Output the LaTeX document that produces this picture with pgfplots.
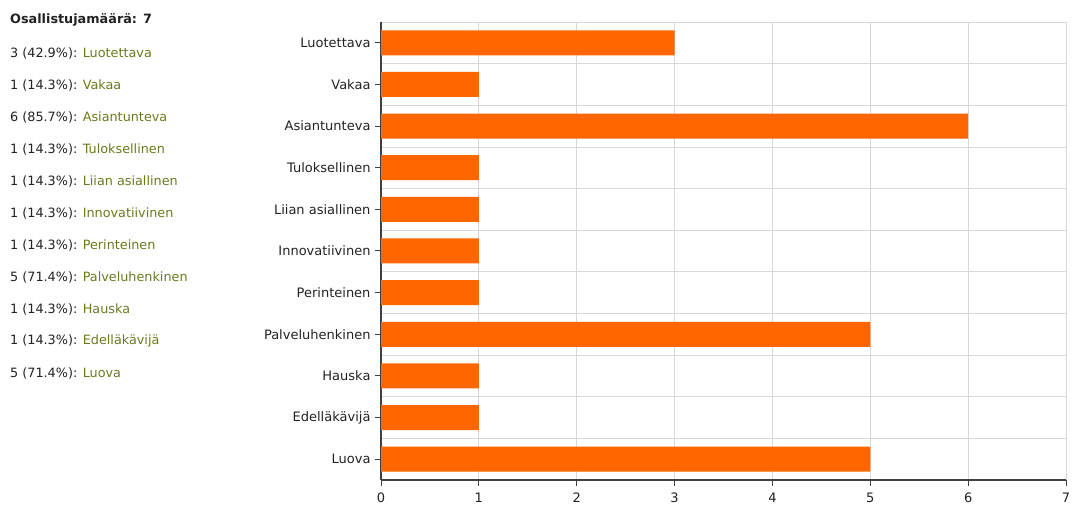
\documentclass[border=0pt]{standalone}
\usepackage{pgfplots}
\pgfplotsset{compat=1.18}
\usepackage{fontspec}
\setmainfont{DejaVu Sans}
\definecolor{barc}{HTML}{FF6600}
\definecolor{olivec}{HTML}{6B7A1E}
\definecolor{txt}{HTML}{222222}
\definecolor{gridc}{HTML}{D8D8D8}
\begin{document}
\begin{tikzpicture}[x=1pt,y=1pt]
\path[use as bounding box] (0,0) rectangle (1075,510);
\begin{axis}[
  at={(381pt,30pt)}, anchor=south west, scale only axis,
  width=685pt, height=458pt,
  xmin=0, xmax=7, ymin=-0.5, ymax=10.5, y dir=reverse,
  xbar, bar width=25pt,
  xtick={0,...,7},
  ytick={0,...,10},
  yticklabels={Luotettava,Vakaa,Asiantunteva,Tuloksellinen,Liian asiallinen,Innovatiivinen,Perinteinen,Palveluhenkinen,Hauska,Edelläkävijä,Luova},
  minor ytick={-0.5,0.5,...,10.5},
  yminorgrids, xmajorgrids,
  major grid style={gridc, line width=0.8pt},
  minor grid style={gridc, line width=0.8pt},
  axis x line*=bottom, axis y line*=left,
  axis line style={-, draw=black!75, line width=1.2pt},
  tick align=outside, major tick length=6pt, minor tick length=0pt,
  major tick style={draw=black!75, line width=1pt},
  tick label style={font=\fontsize{13}{15}\selectfont, text=txt},
  /pgf/number format/assume math mode=true,
  yticklabel style={xshift=-1pt},
  xticklabel style={yshift=-3pt},
]
\addplot[fill=barc, draw=none] coordinates {
(3,0) (1,1) (6,2) (1,3) (1,4) (1,5) (1,6) (5,7) (1,8) (1,9) (5,10)};
\end{axis}
\begin{scope}[every node/.style={anchor=west, inner sep=0pt, font=\fontsize{12.8}{15}\selectfont, text=txt}]
\node at (10,490) {\bfseries Osallistujamäärä: 7};
\node at (10,457) {3 (42.9\%): \textcolor{olivec}{Luotettava}};
\node at (10,425) {1 (14.3\%): \textcolor{olivec}{Vakaa}};
\node at (10,393) {6 (85.7\%): \textcolor{olivec}{Asiantunteva}};
\node at (10,361) {1 (14.3\%): \textcolor{olivec}{Tuloksellinen}};
\node at (10,329) {1 (14.3\%): \textcolor{olivec}{Liian asiallinen}};
\node at (10,297) {1 (14.3\%): \textcolor{olivec}{Innovatiivinen}};
\node at (10,265) {1 (14.3\%): \textcolor{olivec}{Perinteinen}};
\node at (10,233) {5 (71.4\%): \textcolor{olivec}{Palveluhenkinen}};
\node at (10,201) {1 (14.3\%): \textcolor{olivec}{Hauska}};
\node at (10,169) {1 (14.3\%): \textcolor{olivec}{Edelläkävijä}};
\node at (10,137) {5 (71.4\%): \textcolor{olivec}{Luova}};
\end{scope}
\end{tikzpicture}
\end{document}
